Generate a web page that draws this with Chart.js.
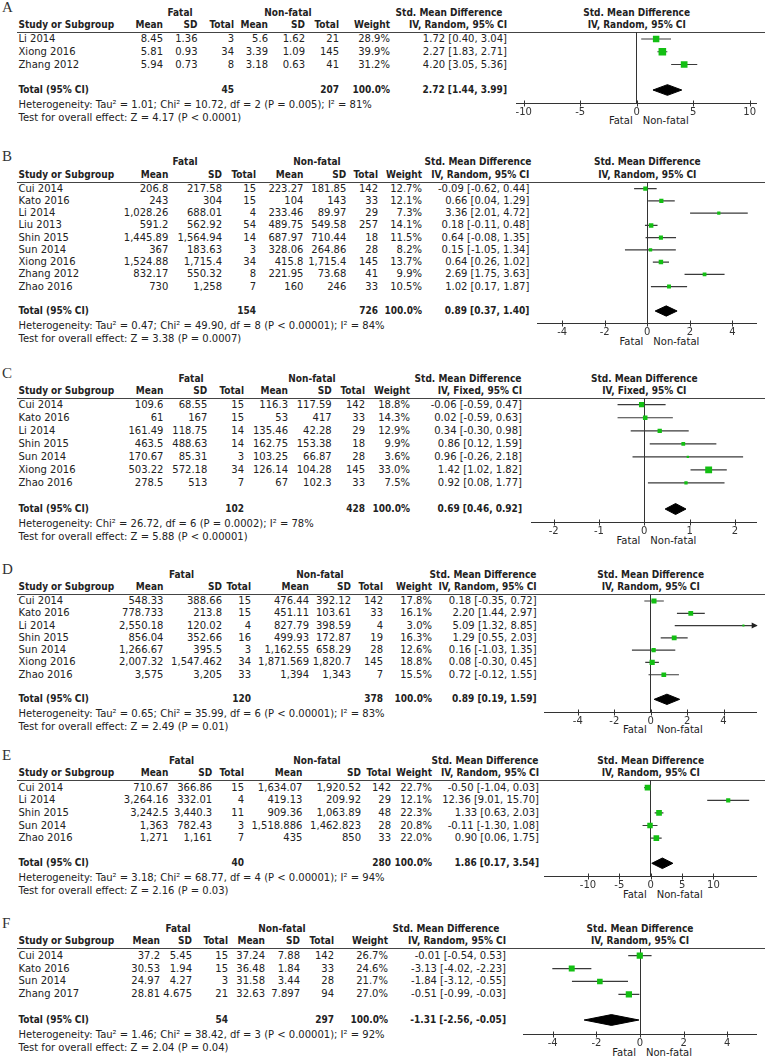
<!DOCTYPE html>
<html><head><meta charset="utf-8">
<script src="https://cdn.jsdelivr.net/npm/chart.js@4.4.0/dist/chart.umd.min.js"></script>
<style>
html,body{margin:0;padding:0;background:#fff;}
#page{position:relative;width:765px;height:1058px;overflow:hidden;font-family:"DejaVu Sans",sans-serif;font-size:10px;color:#222;}
.t{position:absolute;white-space:nowrap;line-height:12px;height:12px;}
.b{font-weight:bold;font-family:"DejaVu Sans Condensed","DejaVu Sans",sans-serif;}
.lbl{position:absolute;font-family:"Liberation Serif","DejaVu Serif",serif;font-size:15px;line-height:16px;color:#333;}
.rule{position:absolute;height:1px;background:#444;}
canvas{position:absolute;}
</style></head><body><div id="page"></div>
<script>
// ---------------- DATA ----------------
// Panel A
const studiesA = ['Li 2014','Xiong 2016','Zhang 2012'];
const fatalMeanA = [8.45, 5.81, 5.94];
const fatalSdA = [1.36, 0.93, 0.73];
const fatalNA = [3, 34, 8];
const nonMeanA = [5.6, 3.39, 3.18];
const nonSdA = [1.62, 1.09, 0.63];
const nonNA = [21, 145, 41];
const weightA = [28.9, 39.9, 31.2];
const smdA = [1.72, 2.27, 4.20];
const ciLowA = [0.40, 1.83, 3.05];
const ciHighA = [3.04, 2.71, 5.36];
const totalNA = [45, 207];
const pooledA = [2.72, 1.44, 3.99];
const ticksA = [-10, -5, 0, 5, 10];
const methodA = 'IV, Random, 95% CI';
const hetA = 'Heterogeneity: Tau² = 1.01; Chi² = 10.72, df = 2 (P = 0.005); I² = 81%';
const testA = 'Test for overall effect: Z = 4.17 (P < 0.0001)';

// Panel B
const studiesB = ['Cui 2014','Kato 2016','Li 2014','Liu 2013','Shin 2015','Sun 2014','Xiong 2016','Zhang 2012','Zhao 2016'];
const fatalMeanB = [206.8, 243, 1028.26, 591.2, 1445.89, 367, 1524.88, 832.17, 730];
const fatalSdB = [217.58, 304, 688.01, 562.92, 1564.94, 183.63, 1715.4, 550.32, 1258];
const fatalNB = [15, 15, 4, 54, 14, 3, 34, 8, 7];
const nonMeanB = [223.27, 104, 233.46, 489.75, 687.97, 328.06, 415.8, 221.95, 160];
const nonSdB = [181.85, 143, 89.97, 549.58, 710.44, 264.86, 1715.4, 73.68, 246];
const nonNB = [142, 33, 29, 257, 18, 28, 145, 41, 33];
const weightB = [12.7, 12.1, 7.3, 14.1, 11.5, 8.2, 13.7, 9.9, 10.5];
const smdB = [-0.09, 0.66, 3.36, 0.18, 0.64, 0.15, 0.64, 2.69, 1.02];
const ciLowB = [-0.62, 0.04, 2.01, -0.11, -0.08, -1.05, 0.26, 1.75, 0.17];
const ciHighB = [0.44, 1.29, 4.72, 0.48, 1.35, 1.34, 1.02, 3.63, 1.87];
const totalNB = [154, 726];
const pooledB = [0.89, 0.37, 1.40];
const ticksB = [-4, -2, 0, 2, 4];
const methodB = 'IV, Random, 95% CI';
const hetB = 'Heterogeneity: Tau² = 0.47; Chi² = 49.90, df = 8 (P < 0.00001); I² = 84%';
const testB = 'Test for overall effect: Z = 3.38 (P = 0.0007)';

// Panel C
const studiesC = ['Cui 2014','Kato 2016','Li 2014','Shin 2015','Sun 2014','Xiong 2016','Zhao 2016'];
const fatalMeanC = [109.6, 61, 161.49, 463.5, 170.67, 503.22, 278.5];
const fatalSdC = [68.55, 167, 118.75, 488.63, 85.31, 572.18, 513];
const fatalNC = [15, 15, 14, 14, 3, 34, 7];
const nonMeanC = [116.3, 53, 135.46, 162.75, 103.25, 126.14, 67];
const nonSdC = [117.59, 417, 42.28, 153.38, 66.87, 104.28, 102.3];
const nonNC = [142, 33, 29, 18, 28, 145, 33];
const weightC = [18.8, 14.3, 12.9, 9.9, 3.6, 33.0, 7.5];
const smdC = [-0.06, 0.02, 0.34, 0.86, 0.96, 1.42, 0.92];
const ciLowC = [-0.59, -0.59, -0.30, 0.12, -0.26, 1.02, 0.08];
const ciHighC = [0.47, 0.63, 0.98, 1.59, 2.18, 1.82, 1.77];
const totalNC = [102, 428];
const pooledC = [0.69, 0.46, 0.92];
const ticksC = [-2, -1, 0, 1, 2];
const methodC = 'IV, Fixed, 95% CI';
const hetC = 'Heterogeneity: Chi² = 26.72, df = 6 (P = 0.0002); I² = 78%';
const testC = 'Test for overall effect: Z = 5.88 (P < 0.00001)';

// Panel D
const studiesD = ['Cui 2014','Kato 2016','Li 2014','Shin 2015','Sun 2014','Xiong 2016','Zhao 2016'];
const fatalMeanD = [548.33, 778.733, 2550.18, 856.04, 1266.67, 2007.32, 3575];
const fatalSdD = [388.66, 213.8, 120.02, 352.66, 395.5, 1547.462, 3205];
const fatalND = [15, 15, 4, 16, 3, 34, 33];
const nonMeanD = [476.44, 451.11, 827.79, 499.93, 1162.55, 1871.569, 1394];
const nonSdD = [392.12, 103.61, 398.59, 172.87, 658.29, 1820.7, 1343];
const nonND = [142, 33, 4, 19, 28, 145, 7];
const weightD = [17.8, 16.1, 3.0, 16.3, 12.6, 18.8, 15.5];
const smdD = [0.18, 2.20, 5.09, 1.29, 0.16, 0.08, 0.72];
const ciLowD = [-0.35, 1.44, 1.32, 0.55, -1.03, -0.30, -0.12];
const ciHighD = [0.72, 2.97, 8.85, 2.03, 1.35, 0.45, 1.55];
const totalND = [120, 378];
const pooledD = [0.89, 0.19, 1.59];
const ticksD = [-4, -2, 0, 2, 4];
const methodD = 'IV, Random, 95% CI';
const hetD = 'Heterogeneity: Tau² = 0.65; Chi² = 35.99, df = 6 (P < 0.00001); I² = 83%';
const testD = 'Test for overall effect: Z = 2.49 (P = 0.01)';

// Panel E
const studiesE = ['Cui 2014','Li 2014','Shin 2015','Sun 2014','Zhao 2016'];
const fatalMeanE = [710.67, 3264.16, 3242.5, 1363, 1271];
const fatalSdE = [366.86, 332.01, 3440.3, 782.43, 1161];
const fatalNE = [15, 4, 11, 3, 7];
const nonMeanE = [1634.07, 419.13, 909.36, 1518.886, 435];
const nonSdE = [1920.52, 209.92, 1063.89, 1462.823, 850];
const nonNE = [142, 29, 48, 28, 33];
const weightE = [22.7, 12.1, 22.3, 20.8, 22.0];
const smdE = [-0.50, 12.36, 1.33, -0.11, 0.90];
const ciLowE = [-1.04, 9.01, 0.63, -1.30, 0.06];
const ciHighE = [0.03, 15.70, 2.03, 1.08, 1.75];
const totalNE = [40, 280];
const pooledE = [1.86, 0.17, 3.54];
const ticksE = [-10, -5, 0, 5, 10];
const methodE = 'IV, Random, 95% CI';
const hetE = 'Heterogeneity: Tau² = 3.18; Chi² = 68.77, df = 4 (P < 0.00001); I² = 94%';
const testE = 'Test for overall effect: Z = 2.16 (P = 0.03)';

// Panel F
const studiesF = ['Cui 2014','Kato 2016','Sun 2014','Zhang 2017'];
const fatalMeanF = [37.2, 30.53, 24.97, 28.81];
const fatalSdF = [5.45, 1.94, 4.27, 4.675];
const fatalNF = [15, 15, 3, 21];
const nonMeanF = [37.24, 36.48, 31.58, 32.63];
const nonSdF = [7.88, 1.84, 3.44, 7.897];
const nonNF = [142, 33, 28, 94];
const weightF = [26.7, 24.6, 21.7, 27.0];
const smdF = [-0.01, -3.13, -1.84, -0.51];
const ciLowF = [-0.54, -4.02, -3.12, -0.99];
const ciHighF = [0.53, -2.23, -0.55, -0.03];
const totalNF = [54, 297];
const pooledF = [-1.31, -2.56, -0.05];
const ticksF = [-4, -2, 0, 2, 4];
const methodF = 'IV, Random, 95% CI';
const hetF = 'Heterogeneity: Tau² = 1.46; Chi² = 38.42, df = 3 (P < 0.00001); I² = 92%';
const testF = 'Test for overall effect: Z = 2.04 (P = 0.04)';

// ---------------- LAYOUT (positions / styles) ----------------
const GREEN = '#13bf13';
const LINE = '#3a3a3a';
const SQ_K = 12;      // square side scale (px per sqrt(weight fraction))
const DIAMOND_H = 0.42; // diamond half-height in row units

const layout = {
  A:{ruleY:32.3, row0:39, step:12.75, axisY:102.7, c:636.7, L:120, M:10.62, cols:[163,197.5,234,268,305,339,390,507], hdr:[180,288,449]},
  B:{ruleY:181.7, row0:188.7, step:12.23, axisY:323.3, c:647.3, L:109.4, M:5.14, cols:[168.3,222,256,303.4,346.3,378,422,529.3], hdr:[185,317,478]},
  C:{ruleY:398.3, row0:404.7, step:13.04, axisY:522.3, c:644.3, L:112.4, M:2.48, cols:[163.4,207.3,244,288,331.7,365,410,522], hdr:[191,312,468]},
  D:{ruleY:594.3, row0:601, step:12.29, axisY:711.7, c:650.7, L:106, M:5.82, cols:[163.4,222,251,309,351,383,432,536.6], hdr:[181.5,320,483]},
  E:{ruleY:780, row0:787.7, step:12.6, axisY:876, c:650.7, L:106, M:16.9, cols:[168.3,212.2,244,302.4,361,391,432,539], hdr:[181.5,317,485]},
  F:{ruleY:948.3, row0:955.7, step:12.86, axisY:1034, c:640, L:116.7, M:5.35, cols:[160,192,228,265,300,334,388,506], hdr:[178,282,446]}
};

const panelData = {
  A:{studies:studiesA, fm:fatalMeanA, fs:fatalSdA, fn:fatalNA, nm:nonMeanA, ns:nonSdA, nn:nonNA, w:weightA, smd:smdA, lo:ciLowA, hi:ciHighA, tot:totalNA, pooled:pooledA, ticks:ticksA, method:methodA, het:hetA, test:testA},
  B:{studies:studiesB, fm:fatalMeanB, fs:fatalSdB, fn:fatalNB, nm:nonMeanB, ns:nonSdB, nn:nonNB, w:weightB, smd:smdB, lo:ciLowB, hi:ciHighB, tot:totalNB, pooled:pooledB, ticks:ticksB, method:methodB, het:hetB, test:testB},
  C:{studies:studiesC, fm:fatalMeanC, fs:fatalSdC, fn:fatalNC, nm:nonMeanC, ns:nonSdC, nn:nonNC, w:weightC, smd:smdC, lo:ciLowC, hi:ciHighC, tot:totalNC, pooled:pooledC, ticks:ticksC, method:methodC, het:hetC, test:testC},
  D:{studies:studiesD, fm:fatalMeanD, fs:fatalSdD, fn:fatalND, nm:nonMeanD, ns:nonSdD, nn:nonND, w:weightD, smd:smdD, lo:ciLowD, hi:ciHighD, tot:totalND, pooled:pooledD, ticks:ticksD, method:methodD, het:hetD, test:testD},
  E:{studies:studiesE, fm:fatalMeanE, fs:fatalSdE, fn:fatalNE, nm:nonMeanE, ns:nonSdE, nn:nonNE, w:weightE, smd:smdE, lo:ciLowE, hi:ciHighE, tot:totalNE, pooled:pooledE, ticks:ticksE, method:methodE, het:hetE, test:testE},
  F:{studies:studiesF, fm:fatalMeanF, fs:fatalSdF, fn:fatalNF, nm:nonMeanF, ns:nonSdF, nn:nonNF, w:weightF, smd:smdF, lo:ciLowF, hi:ciHighF, tot:totalNF, pooled:pooledF, ticks:ticksF, method:methodF, het:hetF, test:testF}
};

// ---------------- RENDER ----------------
const page = document.getElementById('page');
const FONT = '"DejaVu Sans",sans-serif';

function fmtNum(v) {
  const s = String(v);
  const parts = s.split('.');
  parts[0] = parts[0].replace(/\B(?=(\d{3})+(?!\d))/g, ',');
  return parts.join('.');
}
function fmtCI(e, lo, hi) { return e.toFixed(2) + ' [' + lo.toFixed(2) + ', ' + hi.toFixed(2) + ']'; }

function txt(s, x, y, align, bold, cls) {
  const d = document.createElement('div');
  d.className = 't' + (bold ? ' b' : '') + (cls ? ' ' + cls : '');
  d.textContent = s;
  if (align === 'left') { d.style.left = x + 'px'; }
  else if (align === 'right') { d.style.left = (x - 300) + 'px'; d.style.width = '300px'; d.style.textAlign = 'right'; }
  else { d.style.left = (x - 200) + 'px'; d.style.width = '400px'; d.style.textAlign = 'center'; }
  d.style.top = (y - 6) + 'px';
  page.appendChild(d);
  return d;
}

const crossTicks = {
  id: 'crossTicks',
  afterDraw(chart) {
    const s = chart.scales.x, ctx = chart.ctx, y = Math.round(chart.chartArea.bottom) + 0.5;
    ctx.save();
    ctx.strokeStyle = '#333'; ctx.lineWidth = 1;
    s.ticks.forEach(t => {
      const x = Math.round(s.getPixelForValue(t.value)) + 0.5;
      ctx.beginPath(); ctx.moveTo(x, y - 3); ctx.lineTo(x, y + 3); ctx.stroke();
    });
    ctx.restore();
  }
};
const arrows = {
  id: 'arrows',
  afterDatasetsDraw(chart, args, opts) {
    const xs = chart.scales.x, ys = chart.scales.y, ctx = chart.ctx;
    (opts.hi || []).forEach((h, i) => {
      const y = ys.getPixelForValue(i);
      ctx.save(); ctx.fillStyle = '#222';
      if (h > xs.max) {
        const x = xs.getPixelForValue(xs.max);
        ctx.beginPath(); ctx.moveTo(x + 1, y); ctx.lineTo(x - 5, y - 3); ctx.lineTo(x - 5, y + 3); ctx.closePath(); ctx.fill();
      }
      if (opts.lo[i] < xs.min) {
        const x = xs.getPixelForValue(xs.min);
        ctx.beginPath(); ctx.moveTo(x - 1, y); ctx.lineTo(x + 5, y - 3); ctx.lineTo(x + 5, y + 3); ctx.closePath(); ctx.fill();
      }
      ctx.restore();
    });
  }
};

function drawPanel(key) {
  const p = layout[key], d = panelData[key];
  const n = d.studies.length;
  const rowY = i => p.row0 + i * p.step;
  const h1 = p.ruleY - 19.5, h2 = p.ruleY - 7;
  const L0 = 18.5;

  // panel letter
  const lab = document.createElement('div');
  lab.className = 'lbl'; lab.textContent = key;
  lab.style.left = '2px'; lab.style.top = (p.ruleY - 25.5 - 8) + 'px';
  page.appendChild(lab);

  // headers
  txt('Fatal', p.hdr[0], h1, 'center', true);
  txt('Non-fatal', p.hdr[1], h1, 'center', true);
  txt('Std. Mean Difference', p.hdr[2], h1, 'center', true);
  txt('Std. Mean Difference', p.c, h1, 'center', true);
  txt('Study or Subgroup', L0, h2, 'left', true);
  ['Mean','SD','Total','Mean','SD','Total','Weight'].forEach((h, j) => txt(h, p.cols[j], h2, 'right', true));
  txt(d.method, p.cols[7], h2, 'right', true);
  txt(d.method, p.c, h2, 'center', true);

  // rule
  const r = document.createElement('div');
  r.className = 'rule';
  r.style.left = '17px'; r.style.width = (765 - 17) + 'px'; r.style.top = Math.round(p.ruleY) + 'px';
  page.appendChild(r);

  // study rows
  d.studies.forEach((s, i) => {
    const y = rowY(i);
    txt(s, L0, y, 'left');
    const vals = [fmtNum(d.fm[i]), fmtNum(d.fs[i]), String(d.fn[i]), fmtNum(d.nm[i]), fmtNum(d.ns[i]), String(d.nn[i]), d.w[i].toFixed(1) + '%'];
    vals.forEach((v, j) => txt(v, p.cols[j], y, 'right'));
    txt(fmtCI(d.smd[i], d.lo[i], d.hi[i]), p.cols[7], y, 'right');
  });

  // total row
  const ty = rowY(n + 1);
  txt('Total (95% CI)', L0, ty, 'left', true);
  txt(String(d.tot[0]), p.cols[2], ty, 'right', true);
  txt(String(d.tot[1]), p.cols[5], ty, 'right', true);
  txt('100.0%', p.cols[6], ty, 'right', true);
  txt(fmtCI(d.pooled[0], d.pooled[1], d.pooled[2]), p.cols[7], ty, 'right', true);
  txt(d.het, L0, ty + 14.5, 'left');
  txt(d.test, L0, ty + 28, 'left');

  // Fatal / Non-fatal under axis
  txt('Fatal', p.c - 4, p.axisY + 18.5, 'right');
  txt('Non-fatal', p.c + 6, p.axisY + 18.5, 'left');

  // chart
  const top = Math.round(p.ruleY), axis = Math.round(p.axisY);
  const H = axis - top + 20;
  const cv = document.createElement('canvas');
  cv.width = 260; cv.height = H;
  cv.style.left = '505px'; cv.style.top = top + 'px';
  cv.style.width = '260px'; cv.style.height = H + 'px';
  page.appendChild(cv);

  const ymin = -(p.row0 - top) / p.step;
  const ymax = (axis - p.row0) / p.step;
  const padL = p.c - p.L - 505;
  const padR = 765 - (p.c + p.L);

  const datasets = [];
  datasets.push({
    label: 'study',
    data: d.smd.map((v, i) => ({x: v, y: i})),
    pointStyle: 'rect',
    pointRadius: d.w.map(w => SQ_K * Math.sqrt(w / 100) / Math.SQRT2),
    pointBackgroundColor: GREEN, pointBorderColor: GREEN, pointBorderWidth: 0,
    showLine: false, order: 0
  });
  const t = n + 1;
  datasets.push({
    label: 'pooled',
    data: [{x: d.pooled[1], y: t}, {x: d.pooled[0], y: t - DIAMOND_H}, {x: d.pooled[2], y: t}, {x: d.pooled[0], y: t + DIAMOND_H}, {x: d.pooled[1], y: t}],
    showLine: true, fill: 'shape', backgroundColor: '#000', borderColor: '#000', borderWidth: 1,
    pointRadius: 0, tension: 0, order: 1
  });
  d.lo.forEach((lo, i) => {
    datasets.push({
      label: 'ci' + i,
      data: [{x: lo, y: i}, {x: d.hi[i], y: i}],
      showLine: true, borderColor: LINE, borderWidth: 1.2, pointRadius: 0, fill: false, order: 2
    });
  });

  new Chart(cv, {
    type: 'scatter',
    data: {datasets},
    options: {
      responsive: false, animation: false, events: [],
      layout: {autoPadding: false, padding: {left: padL, right: padR, top: 0, bottom: 0}},
      plugins: {legend: {display: false}, tooltip: {enabled: false}, arrows: {hi: d.hi, lo: d.lo}},
      scales: {
        x: {
          type: 'linear', position: 'bottom', min: -p.M, max: p.M,
          afterFit(s) { s.height = 20; },
          afterBuildTicks(s) { s.ticks = d.ticks.map(v => ({value: v})); },
          grid: {
            drawOnChartArea: true, drawTicks: false, lineWidth: 1,
            color: ctx => (ctx.tick && ctx.tick.value === 0) ? '#333' : 'rgba(0,0,0,0)'
          },
          border: {display: true, color: '#333', width: 1},
          ticks: {padding: 3, autoSkip: false, maxRotation: 0, minRotation: 0, color: '#333',
                  font: {family: FONT, size: 10}, callback: v => String(v)}
        },
        y: {type: 'linear', display: false, reverse: true, min: ymin, max: ymax}
      }
    },
    plugins: [crossTicks, arrows]
  });
}

['A','B','C','D','E','F'].forEach(drawPanel);
</script></body></html>
